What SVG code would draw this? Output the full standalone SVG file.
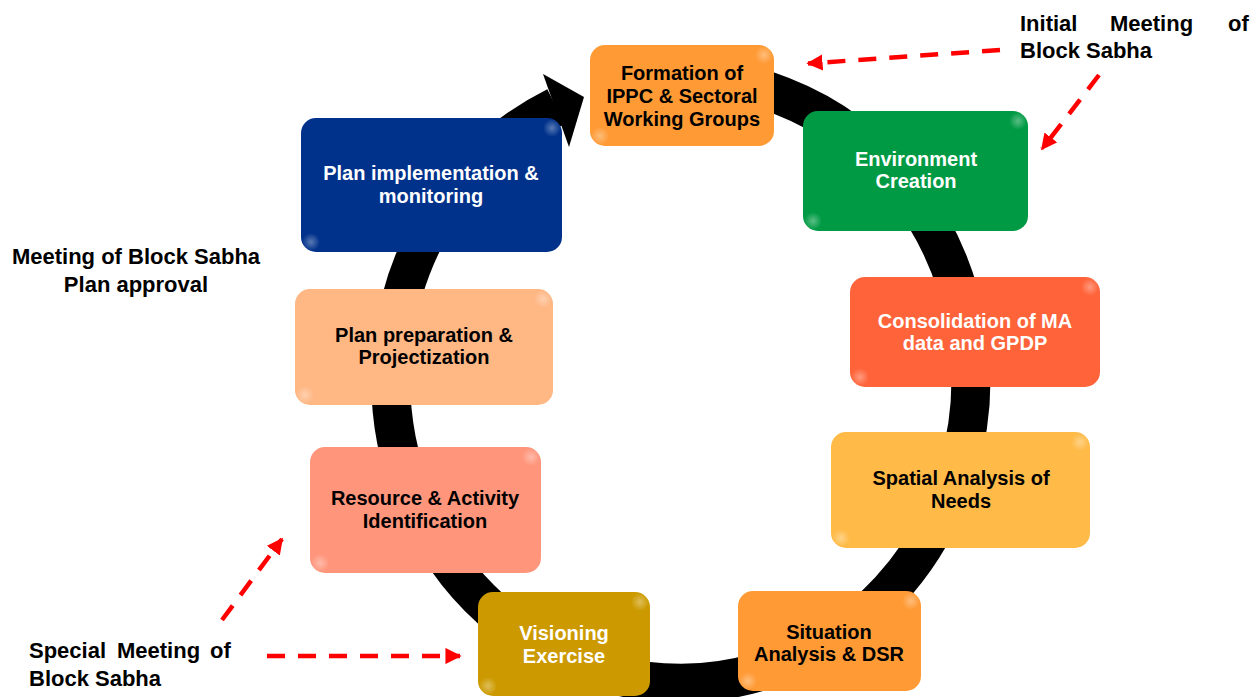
<svg xmlns="http://www.w3.org/2000/svg" width="1258" height="697" viewBox="0 0 1258 697">
<defs>
<style>
.box{stroke:none}
.t{font-family:"Liberation Sans",Arial,sans-serif;font-weight:bold;font-size:20px;text-anchor:middle}
.w{fill:#ffffff}
.k{fill:#000000}
.lbl{font-family:"Liberation Sans",Arial,sans-serif;font-weight:bold;font-size:22px;fill:#000000}
.dash{fill:none;stroke:#ff0000;stroke-width:4.5;stroke-dasharray:18 13;marker-end:url(#ah)}
.hl{fill:url(#hlg)}
</style>
<radialGradient id="hlg">
<stop offset="0" stop-color="#ffffff" stop-opacity="0.35"/>
<stop offset="1" stop-color="#ffffff" stop-opacity="0"/>
</radialGradient>
<marker id="ah" viewBox="0 0 10 10" refX="9" refY="5" markerWidth="3.6" markerHeight="3.6" orient="auto" markerUnits="strokeWidth">
<path d="M0,0 L10,5 L0,10 Z" fill="#ff0000"/>
</marker>
</defs>
<rect width="1258" height="697" fill="#ffffff"/>

<g id="connectors">
<path id="cycle" d="M650,78.8 A290,303 0 1 1 556,106.6" fill="none" stroke="#000000" stroke-width="39"/>
<polygon points="543,74 584,97 569,147" fill="#000000"/>
<path class="dash" d="M1000,50 L808,63.5"/>
<path class="dash" d="M1099,75 L1042,149"/>
<path class="dash" d="M222,620 L282,539"/>
<path class="dash" d="M267,656 L460,656"/>
</g>

<g id="n-formation">
<rect class="box" x="590" y="45" width="184" height="101" rx="15" fill="#FF9A35"/>
<circle class="hl" cx="764" cy="55" r="9"/><circle class="hl" cx="600" cy="136" r="9"/>
<text class="t k" x="682"><tspan x="682" y="80">Formation of</tspan><tspan x="682" y="103">IPPC &amp; Sectoral</tspan><tspan x="682" y="125.5">Working Groups</tspan></text>
</g>

<g id="n-environment">
<rect class="box" x="803" y="111" width="225" height="120" rx="15" fill="#009A44"/>
<circle class="hl" cx="1018" cy="121" r="9"/><circle class="hl" cx="813" cy="221" r="9"/>
<text class="t w"><tspan x="916" y="166">Environment</tspan><tspan x="916" y="188">Creation</tspan></text>
</g>

<g id="n-consolidation">
<rect class="box" x="850" y="277" width="250" height="110" rx="15" fill="#FF6339"/>
<circle class="hl" cx="1090" cy="287" r="9"/><circle class="hl" cx="860" cy="377" r="9"/>
<text class="t w"><tspan x="975" y="328">Consolidation of MA</tspan><tspan x="975" y="350">data and GPDP</tspan></text>
</g>

<g id="n-spatial">
<rect class="box" x="831" y="432" width="259" height="116" rx="15" fill="#FFBA47"/>
<circle class="hl" cx="1080" cy="442" r="9"/><circle class="hl" cx="841" cy="538" r="9"/>
<text class="t k"><tspan x="961" y="485">Spatial Analysis of</tspan><tspan x="961" y="508">Needs</tspan></text>
</g>

<g id="n-situation">
<rect class="box" x="738" y="591" width="183" height="100" rx="15" fill="#FF9A35"/>
<circle class="hl" cx="911" cy="601" r="9"/><circle class="hl" cx="748" cy="681" r="9"/>
<text class="t k"><tspan x="829" y="639">Situation</tspan><tspan x="829" y="661">Analysis &amp; DSR</tspan></text>
</g>

<g id="n-visioning">
<rect class="box" x="478" y="592" width="172" height="104" rx="15" fill="#CC9A00"/>
<circle class="hl" cx="640" cy="602" r="9"/><circle class="hl" cx="488" cy="686" r="9"/>
<text class="t w"><tspan x="564" y="640">Visioning</tspan><tspan x="564" y="663">Exercise</tspan></text>
</g>

<g id="n-resource">
<rect class="box" x="310" y="447" width="231" height="126" rx="15" fill="#FF967C"/>
<circle class="hl" cx="531" cy="457" r="9"/><circle class="hl" cx="320" cy="563" r="9"/>
<text class="t k"><tspan x="425" y="505">Resource &amp; Activity</tspan><tspan x="425" y="528">Identification</tspan></text>
</g>

<g id="n-planprep">
<rect class="box" x="295" y="289" width="258" height="116" rx="15" fill="#FFB784"/>
<circle class="hl" cx="543" cy="299" r="9"/><circle class="hl" cx="305" cy="395" r="9"/>
<text class="t k"><tspan x="424" y="342">Plan preparation &amp;</tspan><tspan x="424" y="364">Projectization</tspan></text>
</g>

<g id="n-planimpl">
<rect class="box" x="301" y="118" width="261" height="134" rx="15" fill="#00318B"/>
<circle class="hl" cx="552" cy="128" r="9"/><circle class="hl" cx="311" cy="242" r="9"/>
<text class="t w"><tspan x="431" y="180">Plan implementation &amp;</tspan><tspan x="431" y="203">monitoring</tspan></text>
</g>

<g id="labels">
<text class="lbl"><tspan x="1020" y="30.5">Initial</tspan><tspan x="1110" y="30.5">Meeting</tspan><tspan x="1228" y="30.5">of</tspan><tspan x="1020" y="58">Block Sabha</tspan></text>
<text class="lbl" text-anchor="middle"><tspan x="136" y="264.3">Meeting of Block Sabha</tspan><tspan x="136" y="291.7">Plan approval</tspan></text>
<text class="lbl"><tspan x="29" y="658.3">Special</tspan><tspan x="117" y="658.3">Meeting</tspan><tspan x="210" y="658.3">of</tspan><tspan x="29" y="685.7">Block Sabha</tspan></text>
</g>
</svg>
